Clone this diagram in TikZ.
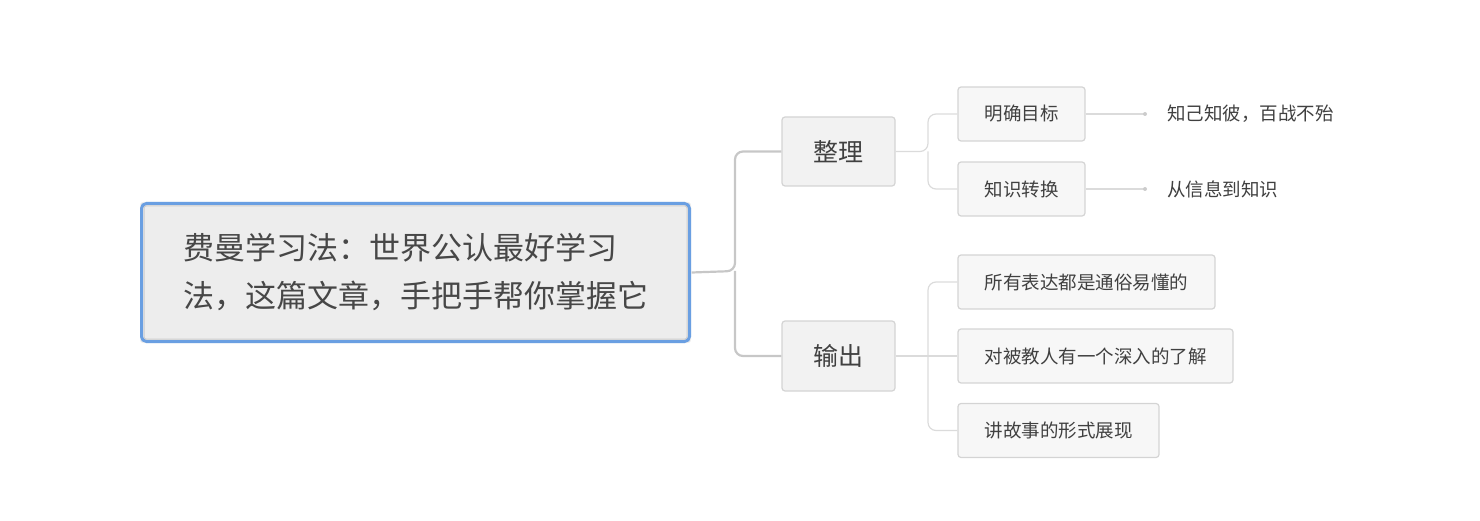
\documentclass[tikz,border=0pt]{standalone}
\usepackage{fontspec}
\setmainfont{Noto Sans CJK SC}
\definecolor{rb}{HTML}{6A9FE2}
\begin{document}
\begin{tikzpicture}[x=1pt,y=-1pt,
  box/.style={draw=black!17,line width=1.2pt,rounded corners=3pt,fill=#1,text=black!75,inner sep=0pt,anchor=center},
  trunk/.style={draw=black!22,line width=2.2pt,rounded corners=8pt},
  br/.style={draw=black!14,line width=1.2pt,rounded corners=8pt},
  lf/.style={text=black!75,font=\fontsize{18.5}{20}\selectfont,anchor=west}]
\useasboundingbox (0,0) rectangle (1480,521);
\node[box=black!7,draw=none,minimum width=551,minimum height=141] (root) at (415.5,272.5) {};
\draw[rounded corners=5pt,draw=rb,line width=3pt] (141.5,203.5) rectangle (689.5,341.5);
\draw[draw=black!20,line width=1pt,rounded corners=2pt] (144,206) rectangle (687,339);
\node[anchor=west,text=black!72,font=\fontsize{31}{48}\selectfont,align=left,inner sep=0pt] (rt) at (183,272) {费曼学习法：世界公认最好学习\\法，这篇文章，手把手帮你掌握它};
\node[box=black!5,minimum width=113,minimum height=69,font=\fontsize{25}{28}\selectfont] (a) at (838.5,151.5) {整理};
\node[box=black!5,minimum width=113,minimum height=70,font=\fontsize{25}{28}\selectfont] (b) at (838.5,356) {输出};
\draw[trunk] (root.east) -- (735,271) -- (735,151.5) -- (a.west);
\draw[trunk] (735,271) -- (735,356) -- (b.west);
\tikzset{sm/.style={box=black!3,minimum height=54,font=\fontsize{18.5}{20}\selectfont}}
\node[sm,minimum width=127] (a1) at (1021.5,114) {明确目标};
\node[sm,minimum width=127] (a2) at (1021.5,189) {知识转换};
\node[sm,minimum width=257] (b1) at (1086.5,282) {所有表达都是通俗易懂的};
\node[sm,minimum width=275] (b2) at (1095.5,356) {对被教人有一个深入的了解};
\node[sm,minimum width=201] (b3) at (1058.5,430.5) {讲故事的形式展现};
\draw[br] (a.east) -- (928,151.5) -- (928,114) -- (a1.west);
\draw[br] (928,151.5) -- (928,189) -- (a2.west);
\draw[br] (b.east) -- (b2.west);
\draw[br] (928,356) -- (928,282) -- (b1.west);
\draw[br] (928,356) -- (928,430.5) -- (b3.west);
\coordinate (d1) at (1145,114);
\coordinate (d2) at (1145,189);
\draw[br] (a1.east) -- (d1); \fill[black!20] (d1) circle (2);
\draw[br] (a2.east) -- (d2); \fill[black!20] (d2) circle (2);
\node[lf,inner sep=0pt] (l1) at (1167,114) {知己知彼，百战不殆};
\node[lf,inner sep=0pt] (l2) at (1167,189) {从信息到知识};
\end{tikzpicture}
\end{document}
